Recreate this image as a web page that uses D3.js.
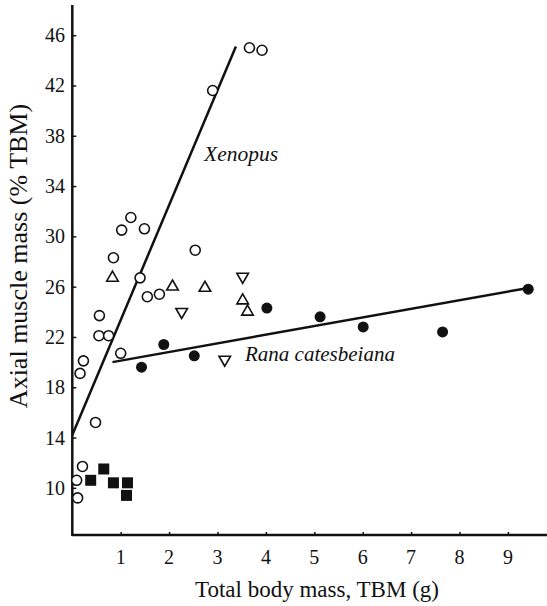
<!DOCTYPE html>
<html lang="en">
    <head>
        <meta charset="utf-8">
        <title>Axial muscle mass vs total body mass</title>
        <script type="text/javascript" src="https://d3js.org/d3.v7.min.js"></script>
        <style type="text/css">
            body { margin: 0; background: #fff; }
            text { font-family: "Liberation Serif", "DejaVu Serif", serif; fill: #111; }
        </style>
    </head>
    <body>
        <script>

        // Size of the picture
        var w = 547;
        var h = 606;

        // Xenopus (open circles): total body mass (g), axial muscle mass (% TBM)
        var xenopusMass   = [3.66, 3.92, 2.90, 1.21, 1.02, 1.49, 2.54, 0.85, 1.40, 1.55, 1.80, 0.56, 0.55, 0.75, 1.00, 0.23, 0.16, 0.48, 0.21, 0.09, 0.11];
        var xenopusMuscle = [45.0, 44.8, 41.6, 31.5, 30.5, 30.6, 28.9, 28.3, 26.7, 25.2, 25.4, 23.7, 22.1, 22.1, 20.7, 20.1, 19.1, 15.2, 11.7, 10.6, 9.2];

        // Open up-triangles
        var upTriMass   = [0.83, 2.07, 2.74, 3.52, 3.62];
        var upTriMuscle = [26.7, 26.0, 25.9, 24.9, 24.0];

        // Open down-triangles
        var downTriMass   = [3.52, 2.26, 3.15];
        var downTriMuscle = [26.8, 24.0, 20.2];

        // Rana catesbeiana (filled circles)
        var ranaMass   = [1.43, 1.89, 2.52, 4.02, 5.12, 6.01, 7.65, 9.42];
        var ranaMuscle = [19.6, 21.4, 20.5, 24.3, 23.6, 22.8, 22.4, 25.8];

        // Filled squares
        var squareMass   = [0.38, 0.65, 0.85, 1.14, 1.12];
        var squareMuscle = [10.6, 11.5, 10.4, 10.4, 9.4];

        // Fitted lines, end points [mass, muscle]
        var xenopusFit = [[0, 14.2], [3.38, 45.1]];
        var ranaFit    = [[0.83, 20.0], [9.42, 25.9]];

        // Tick values
        var xTicks = [1, 2, 3, 4, 5, 6, 7, 8, 9];
        var yTicks = [10, 14, 18, 22, 26, 30, 34, 38, 42, 46];

        var svg = d3.select("body")
                    .append("svg")
                    .attr("width", w)
                    .attr("height", h);

        // Scales
        var x = d3.scaleLinear().domain([0, 9.8]).range([72.3, 72.3 + 48.4 * 9.8]);
        var y = d3.scaleLinear().domain([6.25, 48.4]).range([535, 5]);

        // Axes: ticks point inward, no domain path (drawn as plain lines below)
        var xAxis = svg.append("g")
                       .attr("transform", "translate(0," + y(6.25) + ")")
                       .call(d3.axisTop(x).tickValues(xTicks).tickSize(3).tickFormat(""));
        xAxis.select(".domain").remove();

        var yAxis = svg.append("g")
                       .attr("transform", "translate(" + x(0) + ",0)")
                       .call(d3.axisRight(y).tickValues(yTicks).tickSize(4).tickFormat(""));
        yAxis.select(".domain").remove();
        svg.selectAll(".tick line").attr("stroke", "#111").attr("stroke-width", 1.5);

        svg.append("line")
           .attr("x1", x(0)).attr("x2", w)
           .attr("y1", y(6.25)).attr("y2", y(6.25))
           .attr("stroke", "#111").attr("stroke-width", 2.5);
        svg.append("line")
           .attr("x1", x(0)).attr("x2", x(0))
           .attr("y1", y(48.4)).attr("y2", y(6.25) + 1)
           .attr("stroke", "#111").attr("stroke-width", 2.5);

        // Tick labels
        svg.selectAll(".xlab")
           .data(xTicks)
           .enter()
           .append("text")
           .attr("x", function(d) { return x(d); })
           .attr("y", 564)
           .attr("text-anchor", "middle")
           .style("font-size", "20px")
           .text(function(d) { return d; });

        svg.selectAll(".ylab")
           .data(yTicks)
           .enter()
           .append("text")
           .attr("x", 65)
           .attr("y", function(d) { return y(d) + 7; })
           .attr("text-anchor", "end")
           .style("font-size", "20px")
           .text(function(d) { return d; });

        // Axis titles
        svg.append("text")
           .attr("x", 317)
           .attr("y", 597)
           .attr("text-anchor", "middle")
           .style("font-size", "23px")
           .text("Total body mass, TBM (g)");

        svg.append("text")
           .attr("transform", "translate(27,256) rotate(-90)")
           .attr("text-anchor", "middle")
           .style("font-size", "26px")
           .text("Axial muscle mass (% TBM)");

        // Regression lines
        var line = d3.line()
                     .x(function(d) { return x(d[0]); })
                     .y(function(d) { return y(d[1]); });

        [xenopusFit, ranaFit].forEach(function(fit) {
            svg.append("path")
               .attr("d", line(fit))
               .attr("fill", "none")
               .attr("stroke", "#111")
               .attr("stroke-width", 2.5);
        });

        // Species labels
        svg.append("text")
           .attr("x", 204)
           .attr("y", 161)
           .style("font-size", "21.5px")
           .style("font-style", "italic")
           .text("Xenopus");

        svg.append("text")
           .attr("x", 245)
           .attr("y", 361)
           .style("font-size", "21px")
           .style("font-style", "italic")
           .text("Rana catesbeiana");

        // Helper to zip two arrays into points
        function zip(a, b) {
            return a.map(function(v, i) { return [v, b[i]]; });
        }

        // Open circles
        svg.selectAll(".xen")
           .data(zip(xenopusMass, xenopusMuscle))
           .enter()
           .append("circle")
           .attr("cx", function(d) { return x(d[0]); })
           .attr("cy", function(d) { return y(d[1]); })
           .attr("r", 5)
           .attr("fill", "#fff")
           .attr("stroke", "#111")
           .attr("stroke-width", 1.6);

        // Filled circles
        svg.selectAll(".rana")
           .data(zip(ranaMass, ranaMuscle))
           .enter()
           .append("circle")
           .attr("cx", function(d) { return x(d[0]); })
           .attr("cy", function(d) { return y(d[1]); })
           .attr("r", 5.5)
           .attr("fill", "#111");

        // Triangles (up and down)
        var tri = d3.symbol().type(d3.symbolTriangle).size(58);

        svg.selectAll(".up")
           .data(zip(upTriMass, upTriMuscle))
           .enter()
           .append("path")
           .attr("d", tri)
           .attr("transform", function(d) { return "translate(" + x(d[0]) + "," + y(d[1]) + ")"; })
           .attr("fill", "#fff")
           .attr("stroke", "#111")
           .attr("stroke-width", 1.6);

        svg.selectAll(".down")
           .data(zip(downTriMass, downTriMuscle))
           .enter()
           .append("path")
           .attr("d", tri)
           .attr("transform", function(d) { return "translate(" + x(d[0]) + "," + y(d[1]) + ") rotate(180)"; })
           .attr("fill", "#fff")
           .attr("stroke", "#111")
           .attr("stroke-width", 1.6);

        // Filled squares
        svg.selectAll(".sq")
           .data(zip(squareMass, squareMuscle))
           .enter()
           .append("rect")
           .attr("x", function(d) { return x(d[0]) - 5.5; })
           .attr("y", function(d) { return y(d[1]) - 5.5; })
           .attr("width", 11)
           .attr("height", 11)
           .attr("fill", "#111");

        </script>
    </body>
</html>
